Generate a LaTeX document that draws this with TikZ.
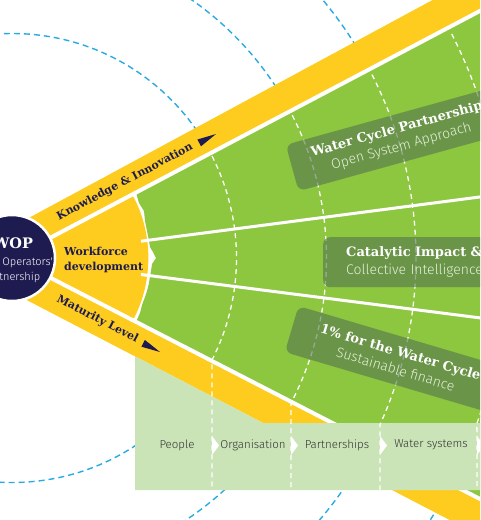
\documentclass[tikz,border=0pt]{standalone}
\usepackage{fontspec}
\newfontfamily\slab{DejaVu Serif}
\newfontfamily\lightsans{Fira Sans Light}
\definecolor{navy}{RGB}{30,27,80}
\definecolor{ycol}{RGB}{253,204,31}
\definecolor{gcol}{RGB}{141,198,63}
\definecolor{lbox}{RGB}{203,228,183}
\definecolor{bluec}{RGB}{41,171,226}
\definecolor{labelc}{RGB}{83,115,78}
\definecolor{subc}{RGB}{228,240,216}
\definecolor{textgray}{RGB}{50,50,50}
\newcommand\ttlfont{\slab\bfseries\fontsize{13}{18}\selectfont}
\newcommand\subfont{\lightsans\fontsize{14}{18}\selectfont\color{subc}}
\tikzset{
 bluedash/.style={draw=bluec, line width=1.4pt, dash pattern=on 6pt off 4pt},
 wdash/.style={draw=white, line width=1.3pt, dash pattern=on 5pt off 4pt},
 wline/.style={draw=white, line width=4pt},
 divline/.style={draw=white, line width=3pt},
 bandtxt/.style={font=\slab\bfseries\fontsize{11}{15}\selectfont, text=navy, inner sep=0pt},
 lbl/.style={fill=labelc, fill opacity=0.6, text opacity=1, text=white, rounded corners=7pt, inner sep=0pt, minimum width=222pt, minimum height=48pt, align=center, font=\fontsize{13}{18}\selectfont},
 steptxt/.style={font=\lightsans\fontsize{11.5}{13}\selectfont, text=textgray},
 dart/.style={fill=navy},
 chev/.style={fill=white}
}
\begin{document}
\begin{tikzpicture}[x=1pt,y=-1pt]
\useasboundingbox (0,0) rectangle (480,520);
\clip (0,0) rectangle (480,520);
\coordinate (C) at (12,258);
% background blue dashed circles
\foreach \r in {224.5,314.5,404,493.5}{\draw[bluedash] (C) circle[radius=\r];}
% yellow bands and workforce sector
\fill[ycol] (12,258) -- (12,227) -- (495,-33.7) -- (495,3) -- cycle;
\fill[ycol] (12,258) -- (495,506.7) -- (495,543.6) -- (12,292.4) -- cycle;
\fill[ycol, rounded corners=3pt] (C) -- ++(-27.8:136) arc[start angle=-27.8, end angle=27.25, radius=136] -- cycle;
% green area with torn left edge
\fill[gcol] (136,192.5) -- (139,203) -- (144,211) -- (145,221) -- (147,231) -- (149,241)
  -- (150,247) -- (153,252) -- (156,258) -- (152,264) -- (151,271) -- (150,276)
  -- (149,283) -- (147,291) -- (145,297) -- (142,305) -- (140,313) -- (136,322)
  -- (495,506.7) -- (495,3) -- cycle;
% white separators
\draw[wline] (C) -- (495,3);
\draw[wline] (C) -- (495,506.7);
\draw[divline] (141,241.2) -- (495,195);
\draw[divline] (141,274.5) -- (495,319.8);
% light green steps box
\fill[lbox] (135,356.4) -- (263,423) -- (490,423) -- (490,490) -- (135,490) -- cycle;
% white dashed arcs
\draw[wdash] (C) ++(-27:224.5) arc[start angle=-27, end angle=27, radius=224.5] -- (212,490);
\draw[wdash] (C) ++(-27:314.5) arc[start angle=-27, end angle=27.5, radius=314.5] -- (291,490);
\draw[wdash] (C) ++(-27:404) arc[start angle=-27, end angle=24.4, radius=404] -- (380,490);
\draw[wdash] (C) ++(-27:493.5) arc[start angle=-27, end angle=19.6, radius=493.5] -- (477,490);
% chevrons
\foreach \x in {212,291,380,477}{\fill[chev] (\x,436) -- (\x+7,445.5) -- (\x,455) -- cycle;}
% step labels
\node[steptxt] (people) at (177,445) {People};
\node[steptxt] (org) at (253,445) {Organisation};
\node[steptxt] (partn) at (337,445) {Partnerships};
\node[steptxt] (watsys) at (431,445) {Water systems};
% label boxes
\node[lbl, rotate=15.5, anchor=west] (wcp) at (292,168) {{\ttlfont Water Cycle Partnership}\\{\subfont Open System Approach}};
\node[lbl, anchor=north west, minimum width=0pt, text width=180pt, inner xsep=23pt, align=left, minimum height=50pt] (cat) at (323,237) {{\ttlfont Catalytic Impact \&}\\{\subfont Collective Intelligence}};
\node[lbl, rotate=-16.5, anchor=west] (opc) at (291.5,329) {{\ttlfont 1\% for the Water Cycle}\\{\subfont Sustainable finance}};
% band texts and darts
\node[bandtxt, rotate=28] (ki) at (125,182) {Knowledge \& Innovation};
\fill[dart] (216,134) -- (197.4,139.5) -- (201,146.3) -- cycle;
\node[bandtxt, rotate=-27.5] (ml) at (97.5,319.5) {Maturity Level};
\fill[dart] (160,352) -- (144.8,339.9) -- (141.4,346.7) -- cycle;
\node[bandtxt, align=left, anchor=west] (wf) at (64,260) {Workforce\\development};
% central circle
\node[circle, fill=navy, draw=white, line width=2.5pt, minimum size=86pt, inner sep=0pt] (wop) at (C) {};
\node[font=\slab\bfseries\fontsize{14.5}{16}\selectfont, text=white, inner sep=0pt] (woplbl) at (13,243) {WOP};
\node[font=\lightsans\fontsize{11}{15}\selectfont, text=white, align=center, inner sep=0pt] (wopsub) at (12,270) {Water Operators'\\Partnership};
\end{tikzpicture}
\end{document}
